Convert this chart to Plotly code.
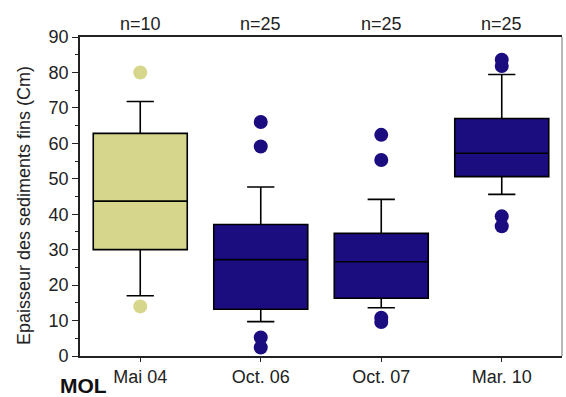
import plotly.graph_objects as go

categories = ["Mai 04", "Oct. 06", "Oct. 07", "Mar. 10"]
n_labels = ["n=10", "n=25", "n=25", "n=25"]
q1 = [30, 13.2, 16.3, 50.6]
median = [43.7, 27.2, 26.6, 57.2]
q3 = [62.8, 37.1, 34.6, 67.0]
lower_whisker = [17, 9.7, 13.6, 45.6]
upper_whisker = [71.8, 47.7, 44.2, 79.4]
outliers = [
    [80, 14],
    [66.0, 59.1, 5.2, 2.4],
    [62.4, 55.3, 10.8, 9.6],
    [83.6, 81.8, 39.4, 36.6],
]
colors = ["#d6d68c", "#1b0c80", "#1b0c80", "#1b0c80"]

fig = go.Figure()
pos = list(range(len(categories)))
for i in pos:
    fig.add_trace(go.Box(
        x=[i], q1=[q1[i]], median=[median[i]], q3=[q3[i]],
        lowerfence=[lower_whisker[i]], upperfence=[upper_whisker[i]],
        fillcolor=colors[i], line=dict(color="black", width=1.6),
        width=0.78, whiskerwidth=0.29, boxpoints=False, showlegend=False,
    ))
    fig.add_trace(go.Scatter(
        x=[i] * len(outliers[i]), y=outliers[i], mode="markers",
        marker=dict(color=colors[i], size=14, line=dict(width=0)),
        showlegend=False, hoverinfo="y",
    ))

for i in pos:
    fig.add_annotation(x=i, y=1, xref="x", yref="paper", text=n_labels[i],
                       showarrow=False, yanchor="bottom", yshift=1,
                       font=dict(size=18, color="#222"))

fig.add_annotation(x=0, y=0, xref="paper", yref="paper", text="<b>MOL</b>",
                   showarrow=False, xanchor="left", yanchor="middle",
                   xshift=-22, yshift=-29, font=dict(size=21, color="#111"))

fig.add_annotation(x=0, y=0.47, xref="paper", yref="paper",
                   text="Epaisseur des sediments fins (Cm)", textangle=-90,
                   showarrow=False, xanchor="center", yanchor="middle",
                   xshift=-56, font=dict(size=18, color="#222"))

fig.add_shape(type="line", xref="paper", yref="paper", x0=1, x1=1, y0=0, y1=1,
              line=dict(color="#888", width=1.2))

fig.update_layout(
    width=566, height=397,
    margin=dict(l=80, r=4, t=37, b=41),
    paper_bgcolor="white", plot_bgcolor="white",
    boxmode="overlay",
    font=dict(family="Liberation Sans, Arial", size=18, color="#222"),
    xaxis=dict(range=[-0.5, 3.5], tickvals=pos, ticktext=categories,
               showline=True, linecolor="#222", linewidth=1.6, mirror=True,
               ticks="outside", ticklen=4, tickcolor="#222", showgrid=False,
               zeroline=False, tickfont=dict(size=18)),
    yaxis=dict(range=[0, 90], dtick=10, showline=True, linecolor="#222",
               linewidth=1.6, ticks="outside", ticklen=6, tickcolor="#222",
               showgrid=False, zeroline=False, tickfont=dict(size=18),
               minor=dict(dtick=5, ticks="outside", ticklen=3, tickcolor="#222")),
)

fig.write_html("out.html", post_script="document.body.style.margin='0';",
               config={"displayModeBar": False})
